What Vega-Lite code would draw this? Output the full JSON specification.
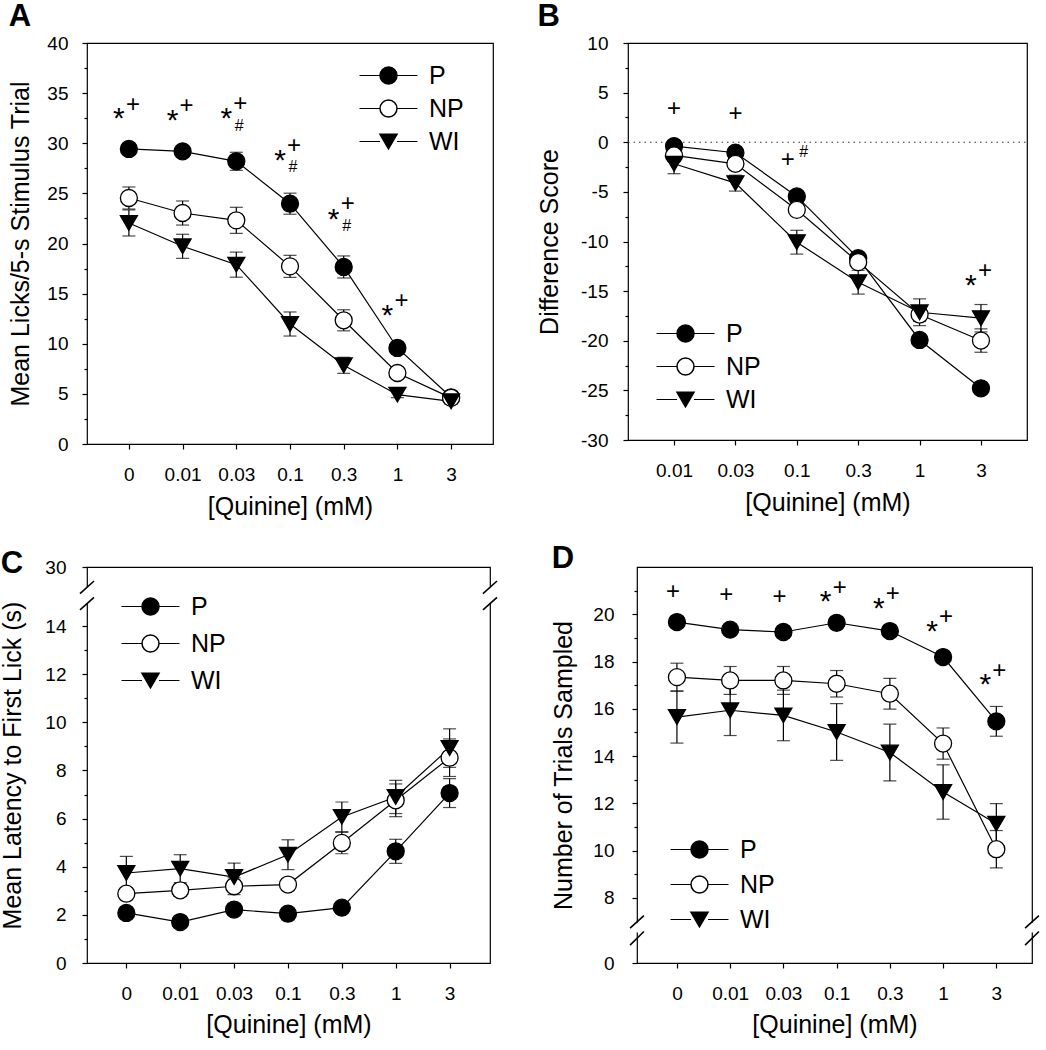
{
  "$schema": "https://vega.github.io/schema/vega-lite/v6.json",
  "background": "white",
  "padding": {"left": 0, "top": 0, "right": 4, "bottom": 0},
  "spacing": 22,
  "config": {
    "font": "Liberation Sans",
    "view": {"stroke": "black", "strokeWidth": 1.2},
    "axis": {"domain": false, "grid": false, "tickColor": "black", "tickWidth": 1.2, "labelColor": "black", "labelFontSize": 19, "labelFont": "Liberation Sans", "titleFont": "Liberation Sans", "titleFontSize": 25, "titleFontWeight": "normal", "titleColor": "black", "labelFlush": false, "labelOverlap": false, "tickCount": 100},
    "legend": {"labelFontSize": 25, "labelFont": "Liberation Sans", "labelColor": "black", "symbolSize": 289, "labelOffset": 28, "rowPadding": 7, "padding": 0},
    "title": {"fontSize": 31, "fontWeight": "bold", "anchor": "start", "color": "black", "font": "Liberation Sans", "frame": "bounds"}
  },
  "datasets": {
    "A": [
      {"g":"P","i":0,"c":"0","y":29.43,"e":0.3},{"g":"P","i":1,"c":"0.01","y":29.19,"e":0.3},{"g":"P","i":2,"c":"0.03","y":28.2,"e":0.9},{"g":"P","i":3,"c":"0.1","y":23.97,"e":1.05},{"g":"P","i":4,"c":"0.3","y":17.66,"e":1.1},{"g":"P","i":5,"c":"1","y":9.58,"e":0.5},{"g":"P","i":6,"c":"3","y":4.66,"e":0.3},
      {"g":"NP","i":0,"c":"0","y":24.54,"e":1.1},{"g":"NP","i":1,"c":"0.01","y":23.04,"e":1.2},{"g":"NP","i":2,"c":"0.03","y":22.31,"e":1.3},{"g":"NP","i":3,"c":"0.1","y":17.72,"e":1.1},{"g":"NP","i":4,"c":"0.3","y":12.34,"e":1.05},{"g":"NP","i":5,"c":"1","y":7.08,"e":0.4},{"g":"NP","i":6,"c":"3","y":4.6,"e":0.3},
      {"g":"WI","i":0,"c":"0","y":22.05,"e":1.3},{"g":"WI","i":1,"c":"0.01","y":19.72,"e":1.2},{"g":"WI","i":2,"c":"0.03","y":17.89,"e":1.25},{"g":"WI","i":3,"c":"0.1","y":11.97,"e":1.2},{"g":"WI","i":4,"c":"0.3","y":7.85,"e":0.8},{"g":"WI","i":5,"c":"1","y":4.92,"e":0.3},{"g":"WI","i":6,"c":"3","y":4.26,"e":0.3}
    ],
    "B": [
      {"g":"P","i":0,"c":"0.01","y":-0.39,"e":0.3},{"g":"P","i":1,"c":"0.03","y":-1.06,"e":0.3},{"g":"P","i":2,"c":"0.1","y":-5.46,"e":0.4},{"g":"P","i":3,"c":"0.3","y":-11.68,"e":0.4},{"g":"P","i":4,"c":"1","y":-19.92,"e":0.5},{"g":"P","i":5,"c":"3","y":-24.79,"e":0.4},
      {"g":"NP","i":0,"c":"0.01","y":-1.33,"e":0.3},{"g":"NP","i":1,"c":"0.03","y":-2.17,"e":0.4},{"g":"NP","i":2,"c":"0.1","y":-6.81,"e":0.5},{"g":"NP","i":3,"c":"0.3","y":-12.08,"e":0.6},{"g":"NP","i":4,"c":"1","y":-17.36,"e":0.7},{"g":"NP","i":5,"c":"3","y":-19.98,"e":1.18},
      {"g":"WI","i":0,"c":"0.01","y":-2.17,"e":1.0},{"g":"WI","i":1,"c":"0.03","y":-4.12,"e":0.8},{"g":"WI","i":2,"c":"0.1","y":-10.07,"e":1.2},{"g":"WI","i":3,"c":"0.3","y":-14.1,"e":1.2},{"g":"WI","i":4,"c":"1","y":-17.13,"e":1.35},{"g":"WI","i":5,"c":"3","y":-17.73,"e":1.38}
    ],
    "C": [
      {"g":"P","i":0,"c":"0","y":2.08,"e":0.15},{"g":"P","i":1,"c":"0.01","y":1.7,"e":0.15},{"g":"P","i":2,"c":"0.03","y":2.22,"e":0.15},{"g":"P","i":3,"c":"0.1","y":2.05,"e":0.15},{"g":"P","i":4,"c":"0.3","y":2.3,"e":0.15},{"g":"P","i":5,"c":"1","y":4.64,"e":0.5},{"g":"P","i":6,"c":"3","y":7.06,"e":0.6},
      {"g":"NP","i":0,"c":"0","y":2.88,"e":0.2},{"g":"NP","i":1,"c":"0.01","y":3.02,"e":0.25},{"g":"NP","i":2,"c":"0.03","y":3.19,"e":0.35},{"g":"NP","i":3,"c":"0.1","y":3.26,"e":0.2},{"g":"NP","i":4,"c":"0.3","y":4.99,"e":0.45},{"g":"NP","i":5,"c":"1","y":6.76,"e":0.68},{"g":"NP","i":6,"c":"3","y":8.53,"e":0.78},
      {"g":"WI","i":0,"c":"0","y":3.74,"e":0.69},{"g":"WI","i":1,"c":"0.01","y":3.92,"e":0.58},{"g":"WI","i":2,"c":"0.03","y":3.57,"e":0.58},{"g":"WI","i":3,"c":"0.1","y":4.5,"e":0.62},{"g":"WI","i":4,"c":"0.3","y":6.07,"e":0.62},{"g":"WI","i":5,"c":"1","y":6.9,"e":0.69},{"g":"WI","i":6,"c":"3","y":8.93,"e":0.8}
    ],
    "D": [
      {"g":"P","i":0,"c":"0","y":19.67,"e":0.2},{"g":"P","i":1,"c":"0.01","y":19.35,"e":0.2},{"g":"P","i":2,"c":"0.03","y":19.25,"e":0.26},{"g":"P","i":3,"c":"0.1","y":19.64,"e":0.2},{"g":"P","i":4,"c":"0.3","y":19.29,"e":0.2},{"g":"P","i":5,"c":"1","y":18.19,"e":0.2},{"g":"P","i":6,"c":"3","y":15.47,"e":0.63},
      {"g":"NP","i":0,"c":"0","y":17.34,"e":0.59},{"g":"NP","i":1,"c":"0.01","y":17.2,"e":0.59},{"g":"NP","i":2,"c":"0.03","y":17.2,"e":0.59},{"g":"NP","i":3,"c":"0.1","y":17.06,"e":0.56},{"g":"NP","i":4,"c":"0.3","y":16.64,"e":0.65},{"g":"NP","i":5,"c":"1","y":14.53,"e":0.66},{"g":"NP","i":6,"c":"3","y":10.06,"e":0.79},
      {"g":"WI","i":0,"c":"0","y":15.65,"e":1.1},{"g":"WI","i":1,"c":"0.01","y":15.94,"e":1.07},{"g":"WI","i":2,"c":"0.03","y":15.72,"e":1.07},{"g":"WI","i":3,"c":"0.1","y":15.02,"e":1.2},{"g":"WI","i":4,"c":"0.3","y":14.15,"e":1.2},{"g":"WI","i":5,"c":"1","y":12.48,"e":1.15},{"g":"WI","i":6,"c":"3","y":11.14,"e":0.85}
    ],
    "annA": [
      {"i":0,"y":32.9,"s":"*","p":"L"},{"i":0,"y":33.8,"s":"+","p":"R"},
      {"i":1,"y":32.7,"s":"*","p":"L"},{"i":1,"y":33.7,"s":"+","p":"R"},
      {"i":2,"y":32.9,"s":"*","p":"L"},{"i":2,"y":33.95,"s":"+","p":"R"},{"i":2,"y":31.7,"s":"#","p":"S"},
      {"i":3,"y":28.7,"s":"*","p":"L"},{"i":3,"y":29.7,"s":"+","p":"R"},{"i":3,"y":27.6,"s":"#","p":"S"},
      {"i":4,"y":22.8,"s":"*","p":"L"},{"i":4,"y":23.9,"s":"+","p":"R"},{"i":4,"y":21.7,"s":"#","p":"S"},
      {"i":5,"y":13.3,"s":"*","p":"L"},{"i":5,"y":14.3,"s":"+","p":"R"}
    ],
    "annB": [
      {"i":0,"y":3.38,"s":"+","p":"C"},{"i":1,"y":2.8,"s":"+","p":"C"},
      {"i":2,"y":-1.77,"s":"+","p":"L"},{"i":2,"y":-1.0,"s":"#","p":"R"},
      {"i":5,"y":-14.0,"s":"*","p":"L"},{"i":5,"y":-13.0,"s":"+","p":"R"}
    ],
    "annD": [
      {"i":0,"y":20.94,"s":"+","p":"C"},{"i":1,"y":20.8,"s":"+","p":"C"},{"i":2,"y":20.73,"s":"+","p":"C"},
      {"i":3,"y":20.71,"s":"*","p":"L"},{"i":3,"y":21.11,"s":"+","p":"R"},
      {"i":4,"y":20.43,"s":"*","p":"L"},{"i":4,"y":20.85,"s":"+","p":"R"},
      {"i":5,"y":19.46,"s":"*","p":"L"},{"i":5,"y":19.88,"s":"+","p":"R"},
      {"i":6,"y":17.24,"s":"*","p":"L"},{"i":6,"y":17.6,"s":"+","p":"R"}
    ]
  },
  "resolve": {"scale": {"shape": "independent", "fill": "independent", "color": "independent"}, "legend": {"shape": "independent", "fill": "independent", "color": "independent"}},
  "vconcat": [
    {
      "hconcat": [
        {
          "width": 406, "height": 401,
          "title": {"text": "A", "offset": 1},
          "layer": [
            {"data": {"name": "A"}, "mark": {"type": "errorbar", "ticks": {"size": 13, "thickness": 1.2, "color": "black"}, "rule": {"strokeWidth": 1.2, "color": "black"}},
             "encoding": {"x": {"field": "i", "type": "quantitative", "title": "[Quinine] (mM)", "scale": {"domain": [-0.78, 6.78], "nice": false, "zero": false}},
                          "y": {"field": "y", "type": "quantitative", "title": "Mean Licks/5-s Stimulus Trial", "scale": {"domain": [0, 40], "nice": false, "zero": false}},
                          "yError": {"field": "e"}}},
            {"data": {"name": "A"}, "mark": {"type": "line", "strokeWidth": 1.2},
             "encoding": {"x": {"field": "i", "type": "quantitative", "scale": {"domain": [-0.78, 6.78], "nice": false, "zero": false}},
                          "y": {"field": "y", "type": "quantitative", "scale": {"domain": [0, 40], "nice": false, "zero": false}},
                          "color": {"field": "g", "type": "nominal", "scale": {"domain": ["WI","NP","P"], "range": ["black","black","black"]},
                            "legend": {"title": null, "orient": "none", "legendX": 289, "legendY": 20, "symbolType": "M-3.41,0H-1M1,0H3.41", "symbolStrokeWidth": 1.2, "symbolStrokeColor": "black", "labelColor": "transparent", "labelExpr": "' '"}}}},
            {"data": {"name": "A"}, "mark": {"type": "point", "filled": true, "stroke": "black", "strokeWidth": 1.3, "size": 289, "opacity": 1},
             "encoding": {
               "x": {"field": "i", "type": "quantitative", "scale": {"domain": [-0.78, 6.78], "nice": false, "zero": false},
                     "axis": {"title": "[Quinine] (mM)", "values": [0,1,2,3,4,5,6], "labelExpr": "['0','0.01','0.03','0.1','0.3','1','3'][datum.value]", "tickSize": 5, "labelPadding": 16, "titlePadding": 10}},
               "y": {"field": "y", "type": "quantitative", "scale": {"domain": [0, 40], "nice": false, "zero": false},
                     "axis": {"title": "Mean Licks/5-s Stimulus Trial", "values": [0,2.5,5,7.5,10,12.5,15,17.5,20,22.5,25,27.5,30,32.5,35,37.5,40], "labelExpr": "datum.value % 5 === 0 ? '' + datum.value : ''", "tickSize": {"condition": {"test": "datum.value % 5 !== 0", "value": 3}, "value": 5}, "labelPadding": 14, "titlePadding": 13}},
               "shape": {"field": "g", "type": "nominal", "scale": {"domain": ["P","NP","WI"], "range": ["circle","circle","triangle-down"]},
                 "legend": {"title": null, "orient": "none", "legendX": 289, "legendY": 20}},
               "fill": {"field": "g", "type": "nominal", "scale": {"domain": ["P","NP","WI"], "range": ["black","white","black"]},
                 "legend": {"title": null, "orient": "none", "legendX": 289, "legendY": 20}}
             }},
            {"data": {"name": "annA"}, "transform": [{"filter": "datum.s === '*'"}], "mark": {"type": "text", "fontSize": 30, "dx": -10, "dy": 5, "align": "center", "baseline": "middle", "color": "black"},
             "encoding": {"x": {"field": "i", "type": "quantitative", "scale": {"domain": [-0.78, 6.78], "nice": false, "zero": false}},
                          "y": {"field": "y", "type": "quantitative", "scale": {"domain": [0, 40], "nice": false, "zero": false}},
                          "text": {"field": "s"}}},
            {"data": {"name": "annA"}, "transform": [{"filter": "datum.s === '+'"}], "mark": {"type": "text", "fontSize": 24, "dx": 4, "align": "center", "baseline": "middle", "color": "black"},
             "encoding": {"x": {"field": "i", "type": "quantitative", "scale": {"domain": [-0.78, 6.78], "nice": false, "zero": false}},
                          "y": {"field": "y", "type": "quantitative", "scale": {"domain": [0, 40], "nice": false, "zero": false}},
                          "text": {"field": "s"}}},
            {"data": {"name": "annA"}, "transform": [{"filter": "datum.s === '#'"}], "mark": {"type": "text", "fontSize": 16, "dx": 3, "align": "center", "baseline": "middle", "color": "black"},
             "encoding": {"x": {"field": "i", "type": "quantitative", "scale": {"domain": [-0.78, 6.78], "nice": false, "zero": false}},
                          "y": {"field": "y", "type": "quantitative", "scale": {"domain": [0, 40], "nice": false, "zero": false}},
                          "text": {"field": "s"}}}
          ]
        },
        {
          "width": 399, "height": 397,
          "title": {"text": "B", "offset": 1},
          "layer": [
            {"data": {"values": [{}]}, "mark": {"type": "rule", "color": "#333", "strokeWidth": 1.2, "strokeDash": [1.5, 4]},
             "encoding": {"x": {"datum": -0.75, "type": "quantitative", "scale": {"domain": [-0.75, 5.75], "nice": false, "zero": false}},
                          "x2": {"datum": 5.75},
                          "y": {"datum": 0, "type": "quantitative", "scale": {"domain": [-30, 10], "nice": false, "zero": false}}}},
            {"data": {"name": "B"}, "mark": {"type": "errorbar", "ticks": {"size": 13, "thickness": 1.2, "color": "black"}, "rule": {"strokeWidth": 1.2, "color": "black"}},
             "encoding": {"x": {"field": "i", "type": "quantitative", "title": "[Quinine] (mM)", "scale": {"domain": [-0.75, 5.75], "nice": false, "zero": false}},
                          "y": {"field": "y", "type": "quantitative", "title": "Difference Score", "scale": {"domain": [-30, 10], "nice": false, "zero": false}},
                          "yError": {"field": "e"}}},
            {"data": {"name": "B"}, "mark": {"type": "line", "strokeWidth": 1.2},
             "encoding": {"x": {"field": "i", "type": "quantitative", "scale": {"domain": [-0.75, 5.75], "nice": false, "zero": false}},
                          "y": {"field": "y", "type": "quantitative", "scale": {"domain": [-30, 10], "nice": false, "zero": false}},
                          "color": {"field": "g", "type": "nominal", "scale": {"domain": ["WI","NP","P"], "range": ["black","black","black"]},
                            "legend": {"title": null, "orient": "none", "legendX": 45, "legendY": 278, "symbolType": "M-3.41,0H-1M1,0H3.41", "symbolStrokeWidth": 1.2, "symbolStrokeColor": "black", "labelColor": "transparent", "labelExpr": "' '"}}}},
            {"data": {"name": "B"}, "mark": {"type": "point", "filled": true, "stroke": "black", "strokeWidth": 1.3, "size": 289, "opacity": 1},
             "encoding": {
               "x": {"field": "i", "type": "quantitative", "scale": {"domain": [-0.75, 5.75], "nice": false, "zero": false},
                     "axis": {"title": "[Quinine] (mM)", "values": [0,1,2,3,4,5], "labelExpr": "['0.01','0.03','0.1','0.3','1','3'][datum.value]", "tickSize": 5, "labelPadding": 16, "titlePadding": 10}},
               "y": {"field": "y", "type": "quantitative", "scale": {"domain": [-30, 10], "nice": false, "zero": false},
                     "axis": {"title": "Difference Score", "values": [-30,-27.5,-25,-22.5,-20,-17.5,-15,-12.5,-10,-7.5,-5,-2.5,0,2.5,5,7.5,10], "labelExpr": "datum.value % 5 === 0 ? '' + datum.value : ''", "tickSize": {"condition": {"test": "datum.value % 5 !== 0", "value": 3}, "value": 5}, "labelPadding": 15, "titlePadding": 18}},
               "shape": {"field": "g", "type": "nominal", "scale": {"domain": ["P","NP","WI"], "range": ["circle","circle","triangle-down"]},
                 "legend": {"title": null, "orient": "none", "legendX": 45, "legendY": 278}},
               "fill": {"field": "g", "type": "nominal", "scale": {"domain": ["P","NP","WI"], "range": ["black","white","black"]},
                 "legend": {"title": null, "orient": "none", "legendX": 45, "legendY": 278}}
             }},
            {"data": {"name": "annB"}, "transform": [{"filter": "datum.s === '*'"}], "mark": {"type": "text", "fontSize": 30, "dx": -10, "dy": 5, "align": "center", "baseline": "middle", "color": "black"},
             "encoding": {"x": {"field": "i", "type": "quantitative", "scale": {"domain": [-0.75, 5.75], "nice": false, "zero": false}},
                          "y": {"field": "y", "type": "quantitative", "scale": {"domain": [-30, 10], "nice": false, "zero": false}},
                          "text": {"field": "s"}}},
            {"data": {"name": "annB"}, "transform": [{"filter": "datum.s === '+' && datum.p === 'R'"}], "mark": {"type": "text", "fontSize": 24, "dx": 4, "align": "center", "baseline": "middle", "color": "black"},
             "encoding": {"x": {"field": "i", "type": "quantitative", "scale": {"domain": [-0.75, 5.75], "nice": false, "zero": false}},
                          "y": {"field": "y", "type": "quantitative", "scale": {"domain": [-30, 10], "nice": false, "zero": false}},
                          "text": {"field": "s"}}},
            {"data": {"name": "annB"}, "transform": [{"filter": "datum.s === '+' && datum.p === 'L'"}], "mark": {"type": "text", "fontSize": 24, "dx": -9, "align": "center", "baseline": "middle", "color": "black"},
             "encoding": {"x": {"field": "i", "type": "quantitative", "scale": {"domain": [-0.75, 5.75], "nice": false, "zero": false}},
                          "y": {"field": "y", "type": "quantitative", "scale": {"domain": [-30, 10], "nice": false, "zero": false}},
                          "text": {"field": "s"}}},
            {"data": {"name": "annB"}, "transform": [{"filter": "datum.s === '+' && datum.p === 'C'"}], "mark": {"type": "text", "fontSize": 24, "dx": 0, "align": "center", "baseline": "middle", "color": "black"},
             "encoding": {"x": {"field": "i", "type": "quantitative", "scale": {"domain": [-0.75, 5.75], "nice": false, "zero": false}},
                          "y": {"field": "y", "type": "quantitative", "scale": {"domain": [-30, 10], "nice": false, "zero": false}},
                          "text": {"field": "s"}}},
            {"data": {"name": "annB"}, "transform": [{"filter": "datum.s === '#'"}], "mark": {"type": "text", "fontSize": 16, "dx": 7, "align": "center", "baseline": "middle", "color": "black"},
             "encoding": {"x": {"field": "i", "type": "quantitative", "scale": {"domain": [-0.75, 5.75], "nice": false, "zero": false}},
                          "y": {"field": "y", "type": "quantitative", "scale": {"domain": [-30, 10], "nice": false, "zero": false}},
                          "text": {"field": "s"}}}
          ]
        }
      ],
      "spacing": 135, "bounds": "flush",
      "resolve": {"scale": {"shape": "independent", "fill": "independent", "color": "independent"}, "legend": {"shape": "independent", "fill": "independent", "color": "independent"}}
    },
    {
      "hconcat": [
        {
          "width": 403, "height": 396,
          "title": {"text": "C", "offset": -22},
          "layer": [
            {"data": {"name": "C"}, "mark": {"type": "errorbar", "ticks": {"size": 13, "thickness": 1.2, "color": "black"}, "rule": {"strokeWidth": 1.2, "color": "black"}},
             "encoding": {"x": {"field": "i", "type": "quantitative", "title": "[Quinine] (mM)", "scale": {"domain": [-0.73, 6.75], "nice": false, "zero": false}},
                          "y": {"field": "y", "type": "quantitative", "title": "Mean Latency to First Lick (s)", "scale": {"domain": [0, 15, 30], "range": [396, 35, 0], "nice": false, "zero": false}},
                          "yError": {"field": "e"}}},
            {"data": {"name": "C"}, "mark": {"type": "line", "strokeWidth": 1.2},
             "encoding": {"x": {"field": "i", "type": "quantitative", "scale": {"domain": [-0.73, 6.75], "nice": false, "zero": false}},
                          "y": {"field": "y", "type": "quantitative", "scale": {"domain": [0, 15, 30], "range": [396, 35, 0], "nice": false, "zero": false}},
                          "color": {"field": "g", "type": "nominal", "scale": {"domain": ["WI","NP","P"], "range": ["black","black","black"]},
                            "legend": {"title": null, "orient": "none", "legendX": 51, "legendY": 27, "rowPadding": 11, "symbolType": "M-3.41,0H-1M1,0H3.41", "symbolStrokeWidth": 1.2, "symbolStrokeColor": "black", "labelColor": "transparent", "labelExpr": "' '"}}}},
            {"data": {"name": "C"}, "mark": {"type": "point", "filled": true, "stroke": "black", "strokeWidth": 1.3, "size": 289, "opacity": 1},
             "encoding": {
               "x": {"field": "i", "type": "quantitative", "scale": {"domain": [-0.73, 6.75], "nice": false, "zero": false},
                     "axis": {"title": "[Quinine] (mM)", "values": [0,1,2,3,4,5,6], "labelExpr": "['0','0.01','0.03','0.1','0.3','1','3'][datum.value]", "tickSize": 5, "labelPadding": 16, "titlePadding": 9}},
               "y": {"field": "y", "type": "quantitative", "scale": {"domain": [0, 15, 30], "range": [396, 35, 0], "nice": false, "zero": false},
                     "axis": {"title": "Mean Latency to First Lick (s)", "values": [0,1,2,3,4,5,6,7,8,9,10,11,12,13,14,30], "labelExpr": "datum.value % 2 === 0 ? '' + datum.value : ''", "tickSize": {"condition": {"test": "datum.value % 2 !== 0", "value": 3}, "value": 5}, "labelPadding": 16, "titlePadding": 19}},
               "shape": {"field": "g", "type": "nominal", "scale": {"domain": ["P","NP","WI"], "range": ["circle","circle","triangle-down"]},
                 "legend": {"title": null, "orient": "none", "legendX": 51, "legendY": 27, "rowPadding": 11}},
               "fill": {"field": "g", "type": "nominal", "scale": {"domain": ["P","NP","WI"], "range": ["black","white","black"]},
                 "legend": {"title": null, "orient": "none", "legendX": 51, "legendY": 27, "rowPadding": 11}}
             }},
            {"data": {"values": [{}]}, "mark": {"type": "rule", "color": "white", "strokeWidth": 5},
             "encoding": {"x": {"datum": -0.73, "type": "quantitative", "scale": {"domain": [-0.73, 6.75], "nice": false, "zero": false}},
                          "y": {"datum": 14.93, "type": "quantitative", "scale": {"domain": [0, 15, 30], "range": [396, 35, 0], "nice": false, "zero": false}},
                          "y2": {"datum": 21.3}}},
            {"data": {"values": [{}]}, "mark": {"type": "rule", "color": "white", "strokeWidth": 5},
             "encoding": {"x": {"datum": 6.75, "type": "quantitative", "scale": {"domain": [-0.73, 6.75], "nice": false, "zero": false}},
                          "y": {"datum": 14.93, "type": "quantitative", "scale": {"domain": [0, 15, 30], "range": [396, 35, 0], "nice": false, "zero": false}},
                          "y2": {"datum": 21.3}}},
            {"data": {"values": [{}]}, "mark": {"type": "rule", "color": "black", "strokeWidth": 1.6},
             "encoding": {"x": {"datum": -0.86, "type": "quantitative", "scale": {"domain": [-0.73, 6.75], "nice": false, "zero": false}}, "x2": {"datum": -0.6},
                          "y": {"datum": 18.6, "type": "quantitative", "scale": {"domain": [0, 15, 30], "range": [396, 35, 0], "nice": false, "zero": false}}, "y2": {"datum": 24.0}}},
            {"data": {"values": [{}]}, "mark": {"type": "rule", "color": "black", "strokeWidth": 1.6},
             "encoding": {"x": {"datum": -0.86, "type": "quantitative", "scale": {"domain": [-0.73, 6.75], "nice": false, "zero": false}}, "x2": {"datum": -0.6},
                          "y": {"datum": 14.67, "type": "quantitative", "scale": {"domain": [0, 15, 30], "range": [396, 35, 0], "nice": false, "zero": false}}, "y2": {"datum": 17.0}}},
            {"data": {"values": [{}]}, "mark": {"type": "rule", "color": "black", "strokeWidth": 1.6},
             "encoding": {"x": {"datum": 6.62, "type": "quantitative", "scale": {"domain": [-0.73, 6.75], "nice": false, "zero": false}}, "x2": {"datum": 6.88},
                          "y": {"datum": 18.6, "type": "quantitative", "scale": {"domain": [0, 15, 30], "range": [396, 35, 0], "nice": false, "zero": false}}, "y2": {"datum": 24.0}}},
            {"data": {"values": [{}]}, "mark": {"type": "rule", "color": "black", "strokeWidth": 1.6},
             "encoding": {"x": {"datum": 6.62, "type": "quantitative", "scale": {"domain": [-0.73, 6.75], "nice": false, "zero": false}}, "x2": {"datum": 6.88},
                          "y": {"datum": 14.67, "type": "quantitative", "scale": {"domain": [0, 15, 30], "range": [396, 35, 0], "nice": false, "zero": false}}, "y2": {"datum": 17.0}}}
          ]
        },
        {
          "width": 395, "height": 396,
          "title": {"text": "D", "offset": -8},
          "layer": [
            {"data": {"name": "D"}, "mark": {"type": "errorbar", "ticks": {"size": 13, "thickness": 1.2, "color": "black"}, "rule": {"strokeWidth": 1.2, "color": "black"}},
             "encoding": {"x": {"field": "i", "type": "quantitative", "title": "[Quinine] (mM)", "scale": {"domain": [-0.75, 6.67], "nice": false, "zero": false}},
                          "y": {"field": "y", "type": "quantitative", "title": "Number of Trials Sampled", "scale": {"domain": [0, 6.6, 22], "range": [396, 364, 0], "nice": false, "zero": false}},
                          "yError": {"field": "e"}}},
            {"data": {"name": "D"}, "mark": {"type": "line", "strokeWidth": 1.2},
             "encoding": {"x": {"field": "i", "type": "quantitative", "scale": {"domain": [-0.75, 6.67], "nice": false, "zero": false}},
                          "y": {"field": "y", "type": "quantitative", "scale": {"domain": [0, 6.6, 22], "range": [396, 364, 0], "nice": false, "zero": false}},
                          "color": {"field": "g", "type": "nominal", "scale": {"domain": ["WI","NP","P"], "range": ["black","black","black"]},
                            "legend": {"title": null, "orient": "none", "legendX": 50, "legendY": 270, "rowPadding": 9, "symbolType": "M-3.41,0H-1M1,0H3.41", "symbolStrokeWidth": 1.2, "symbolStrokeColor": "black", "labelColor": "transparent", "labelExpr": "' '"}}}},
            {"data": {"name": "D"}, "mark": {"type": "point", "filled": true, "stroke": "black", "strokeWidth": 1.3, "size": 289, "opacity": 1},
             "encoding": {
               "x": {"field": "i", "type": "quantitative", "scale": {"domain": [-0.75, 6.67], "nice": false, "zero": false},
                     "axis": {"title": "[Quinine] (mM)", "values": [0,1,2,3,4,5,6], "labelExpr": "['0','0.01','0.03','0.1','0.3','1','3'][datum.value]", "tickSize": 5, "labelPadding": 16, "titlePadding": 9}},
               "y": {"field": "y", "type": "quantitative", "scale": {"domain": [0, 6.6, 22], "range": [396, 364, 0], "nice": false, "zero": false},
                     "axis": {"title": "Number of Trials Sampled", "values": [0,8,9,10,11,12,13,14,15,16,17,18,19,20,21], "labelExpr": "datum.value % 2 === 0 ? '' + datum.value : ''", "tickSize": {"condition": {"test": "datum.value % 2 !== 0", "value": 3}, "value": 5}, "labelPadding": 18, "titlePadding": 16}},
               "shape": {"field": "g", "type": "nominal", "scale": {"domain": ["P","NP","WI"], "range": ["circle","circle","triangle-down"]},
                 "legend": {"title": null, "orient": "none", "legendX": 50, "legendY": 270, "rowPadding": 9}},
               "fill": {"field": "g", "type": "nominal", "scale": {"domain": ["P","NP","WI"], "range": ["black","white","black"]},
                 "legend": {"title": null, "orient": "none", "legendX": 50, "legendY": 270, "rowPadding": 9}}
             }},
            {"data": {"name": "annD"}, "transform": [{"filter": "datum.s === '*'"}], "mark": {"type": "text", "fontSize": 30, "dx": -11, "dy": 5, "align": "center", "baseline": "middle", "color": "black"},
             "encoding": {"x": {"field": "i", "type": "quantitative", "scale": {"domain": [-0.75, 6.67], "nice": false, "zero": false}},
                          "y": {"field": "y", "type": "quantitative", "scale": {"domain": [0, 6.6, 22], "range": [396, 364, 0], "nice": false, "zero": false}},
                          "text": {"field": "s"}}},
            {"data": {"name": "annD"}, "transform": [{"filter": "datum.s === '+' && datum.p === 'R'"}], "mark": {"type": "text", "fontSize": 24, "dx": 3, "align": "center", "baseline": "middle", "color": "black"},
             "encoding": {"x": {"field": "i", "type": "quantitative", "scale": {"domain": [-0.75, 6.67], "nice": false, "zero": false}},
                          "y": {"field": "y", "type": "quantitative", "scale": {"domain": [0, 6.6, 22], "range": [396, 364, 0], "nice": false, "zero": false}},
                          "text": {"field": "s"}}},
            {"data": {"name": "annD"}, "transform": [{"filter": "datum.s === '+' && datum.p === 'C'"}], "mark": {"type": "text", "fontSize": 24, "dx": -4, "align": "center", "baseline": "middle", "color": "black"},
             "encoding": {"x": {"field": "i", "type": "quantitative", "scale": {"domain": [-0.75, 6.67], "nice": false, "zero": false}},
                          "y": {"field": "y", "type": "quantitative", "scale": {"domain": [0, 6.6, 22], "range": [396, 364, 0], "nice": false, "zero": false}},
                          "text": {"field": "s"}}},
            {"data": {"values": [{}]}, "mark": {"type": "rule", "color": "white", "strokeWidth": 5},
             "encoding": {"x": {"datum": -0.75, "type": "quantitative", "scale": {"domain": [-0.75, 6.67], "nice": false, "zero": false}},
                          "y": {"datum": 6.3, "type": "quantitative", "scale": {"domain": [0, 6.6, 22], "range": [396, 364, 0], "nice": false, "zero": false}},
                          "y2": {"datum": 6.95}}},
            {"data": {"values": [{}]}, "mark": {"type": "rule", "color": "white", "strokeWidth": 5},
             "encoding": {"x": {"datum": 6.67, "type": "quantitative", "scale": {"domain": [-0.75, 6.67], "nice": false, "zero": false}},
                          "y": {"datum": 6.3, "type": "quantitative", "scale": {"domain": [0, 6.6, 22], "range": [396, 364, 0], "nice": false, "zero": false}},
                          "y2": {"datum": 6.95}}},
            {"data": {"values": [{}]}, "mark": {"type": "rule", "color": "black", "strokeWidth": 1.6},
             "encoding": {"x": {"datum": -0.88, "type": "quantitative", "scale": {"domain": [-0.75, 6.67], "nice": false, "zero": false}}, "x2": {"datum": -0.62},
                          "y": {"datum": 6.72, "type": "quantitative", "scale": {"domain": [0, 6.6, 22], "range": [396, 364, 0], "nice": false, "zero": false}}, "y2": {"datum": 7.25}}},
            {"data": {"values": [{}]}, "mark": {"type": "rule", "color": "black", "strokeWidth": 1.6},
             "encoding": {"x": {"datum": -0.88, "type": "quantitative", "scale": {"domain": [-0.75, 6.67], "nice": false, "zero": false}}, "x2": {"datum": -0.62},
                          "y": {"datum": 3.7, "type": "quantitative", "scale": {"domain": [0, 6.6, 22], "range": [396, 364, 0], "nice": false, "zero": false}}, "y2": {"datum": 6.5}}},
            {"data": {"values": [{}]}, "mark": {"type": "rule", "color": "black", "strokeWidth": 1.6},
             "encoding": {"x": {"datum": 6.54, "type": "quantitative", "scale": {"domain": [-0.75, 6.67], "nice": false, "zero": false}}, "x2": {"datum": 6.8},
                          "y": {"datum": 6.72, "type": "quantitative", "scale": {"domain": [0, 6.6, 22], "range": [396, 364, 0], "nice": false, "zero": false}}, "y2": {"datum": 7.25}}},
            {"data": {"values": [{}]}, "mark": {"type": "rule", "color": "black", "strokeWidth": 1.6},
             "encoding": {"x": {"datum": 6.54, "type": "quantitative", "scale": {"domain": [-0.75, 6.67], "nice": false, "zero": false}}, "x2": {"datum": 6.8},
                          "y": {"datum": 3.7, "type": "quantitative", "scale": {"domain": [0, 6.6, 22], "range": [396, 364, 0], "nice": false, "zero": false}}, "y2": {"datum": 6.5}}}
          ]
        }
      ],
      "spacing": 147, "bounds": "flush",
      "resolve": {"scale": {"shape": "independent", "fill": "independent", "color": "independent"}, "legend": {"shape": "independent", "fill": "independent", "color": "independent"}}
    }
  ]
}
